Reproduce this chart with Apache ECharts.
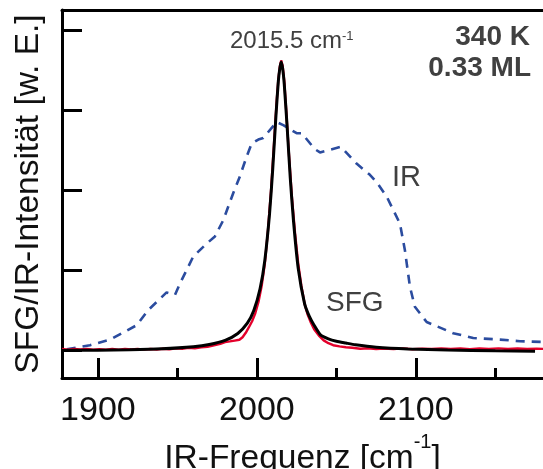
<!DOCTYPE html>
<html>
<head>
<meta charset="utf-8">
<script src="https://cdn.jsdelivr.net/npm/echarts@6/dist/echarts.min.js"></script>
<style>
html,body{margin:0;padding:0;background:#fff;}
#c{width:543px;height:469px;}
</style>
</head>
<body>
<div id="c"></div>
<script>
// IR spectrum (dashed blue)
var irX = [1880.4,1895.0,1907.6,1924.4,1931.7,1943.2,1948.5,1951.6,1960.0,1968.4,1973.6,1978.8,1985.1,1989.3,1993.6,1996.7,2000.9,2004.0,2012.4,2016.6,2025.0,2028.2,2036.5,2039.7,2052.9,2062.7,2071.1,2075.3,2081.6,2090.0,2093.1,2096.3,2099.4,2106.8,2123.5,2136.1,2152.9,2165.5,2180];
var irY = [0.01,0.06,0.13,0.31,0.50,0.72,0.69,0.83,1.17,1.33,1.42,1.62,1.96,2.17,2.42,2.58,2.63,2.65,2.85,2.81,2.71,2.71,2.51,2.47,2.54,2.33,2.19,2.10,1.92,1.58,1.25,0.79,0.54,0.35,0.21,0.15,0.13,0.11,0.10];
// SFG measured (red)
var sfgX = [1877.4,1881,1885,1889,1893,1897,1901,1905,1909,1913,1917,1921,1925,1929,1933,1937,1941,1945,1949,1953,1957,1961,1965,1969,1973,1977,1980,1983,1986,1989,1991,1993,1995,1997,1999,2001,2003,2005,2007,2009,2011,2012.5,2013.5,2014.5,2015.3,2016.2,2017.2,2018.5,2020,2022,2024,2026,2028,2030,2032,2034,2036,2039,2042,2045,2048,2052,2056,2060,2065,2070,2075,2080,2086,2092,2098,2104,2110,2116,2122,2128,2134,2140,2146,2152,2158,2164,2170,2176,2180];
var sfgY = [0.012,0.004,0.014,0.006,0.012,0.003,0.011,0.005,0.013,0.004,0.012,0.006,0.014,0.005,0.013,0.007,0.016,0.010,0.020,0.015,0.026,0.022,0.034,0.040,0.058,0.078,0.100,0.108,0.118,0.128,0.160,0.215,0.285,0.36,0.46,0.60,0.80,1.08,1.50,2.02,2.65,3.12,3.38,3.55,3.62,3.55,3.37,2.98,2.50,1.92,1.46,1.08,0.80,0.58,0.44,0.34,0.26,0.18,0.12,0.085,0.06,0.045,0.035,0.028,0.016,0.022,0.012,0.019,0.011,0.020,0.010,0.017,0.012,0.020,0.013,0.018,0.011,0.019,0.014,0.020,0.013,0.018,0.012,0.017,0.014];
// SFG fit (black)
var fitX = [1877.4,1890,1900,1920,1940,1960,1970,1980,1988,1994,1998,2002,2005,2008,2010,2012,2013.5,2014.5,2015.3,2016.2,2017.2,2019,2021,2023,2026,2030,2033,2036,2040,2045,2050,2056,2062,2075,2095,2120,2150,2175];
var fitY = [-0.005,-0.004,-0.002,0.004,0.016,0.042,0.069,0.121,0.207,0.336,0.49,0.765,1.12,1.71,2.27,2.93,3.36,3.53,3.60,3.52,3.33,2.80,2.15,1.62,1.02,0.58,0.42,0.31,0.19,0.14,0.11,0.087,0.065,0.035,0.013,0.0,-0.01,-0.015];
// ticks
var xMajorTicks = [1900, 2000, 2100];
var xMinorTicks = [1950, 2050, 2150];
var yTicks = [0, 1, 2, 3, 4];
var xMin = 1877.4, xMax = 2180, yMin = -0.35, yMax = 4.25;

function zip(a, b) { return a.map(function (v, i) { return [v, b[i]]; }); }

var FONT = 'Liberation Sans, Arial, sans-serif';
var chart = echarts.init(document.getElementById('c'), null, {renderer: 'canvas'});
chart.setOption({
  animation: false,
  backgroundColor: '#fff',
  grid: {left: 62, top: 10, right: 0, bottom: 91, containLabel: false, outerBoundsMode: 'none'},
  xAxis: [
    {
      type: 'value', position: 'bottom', min: xMin, max: xMax,
      axisLine: {onZero: false, lineStyle: {color: '#000', width: 3}},
      axisTick: {inside: true, length: 20, lineStyle: {color: '#000', width: 3}, customValues: xMajorTicks},
      axisLabel: {customValues: xMajorTicks, fontSize: 34, color: '#111', margin: 16, fontFamily: FONT,
        formatter: function (v) { return String(v); }},
      splitLine: {show: false},
      name: '{a|IR-Frequenz [cm}{s|-1}{a|]}',
      nameLocation: 'middle', nameGap: 52,
      nameTextStyle: {
        rich: {
          a: {fontSize: 33.5, color: '#111', fontFamily: FONT, lineHeight: 52},
          s: {fontSize: 20, color: '#111', fontFamily: FONT, lineHeight: 14, verticalAlign: 'top'}
        }
      }
    },
    {
      type: 'value', position: 'bottom', min: xMin, max: xMax,
      axisLine: {show: false, onZero: false},
      axisTick: {inside: true, length: 10, lineStyle: {color: '#000', width: 3}, customValues: xMinorTicks},
      axisLabel: {show: false},
      splitLine: {show: false}
    },
    {
      type: 'value', position: 'top', min: xMin, max: xMax,
      axisLine: {onZero: false, lineStyle: {color: '#000', width: 3}},
      axisTick: {show: false}, axisLabel: {show: false}, splitLine: {show: false}
    }
  ],
  yAxis: {
    type: 'value', min: yMin, max: yMax,
    axisLine: {show: true, onZero: false, lineStyle: {color: '#000', width: 3}},
    axisTick: {show: true, inside: true, length: 20, lineStyle: {color: '#000', width: 3}, customValues: yTicks},
    axisLabel: {show: false},
    splitLine: {show: false},
    name: 'SFG/IR-Intensität [w. E.]',
    nameLocation: 'middle', nameGap: 16,
    nameTextStyle: {fontSize: 33.5, color: '#111', fontFamily: FONT}
  },
  series: [
    {
      name: 'IR', type: 'line', xAxisIndex: 0, data: zip(irX, irY), showSymbol: false,
      lineStyle: {color: '#2b4c9f', width: 2.6, type: [9, 7]}, z: 2
    },
    {
      name: 'SFG', type: 'line', xAxisIndex: 0, data: zip(sfgX, sfgY), showSymbol: false,
      lineStyle: {color: '#e4002b', width: 2.4}, z: 3
    },
    {
      name: 'Fit', type: 'line', xAxisIndex: 0, data: zip(fitX, fitY), showSymbol: false, smooth: 0.2,
      lineStyle: {color: '#000', width: 3}, z: 4
    }
  ],
  graphic: [
    {type: 'text', x: 230, y: 41, style: {text: '2015.5 cm', font: '24px ' + FONT, fill: '#404040', verticalAlign: 'middle', align: 'left'}},
    {type: 'text', x: 342, y: 36, style: {text: '-1', font: '13px ' + FONT, fill: '#404040', verticalAlign: 'middle', align: 'left'}},
    {type: 'text', x: 530, y: 37, style: {text: '340 K', font: 'bold 28px ' + FONT, fill: '#404040', verticalAlign: 'middle', align: 'right'}},
    {type: 'text', x: 531, y: 68.5, style: {text: '0.33 ML', font: 'bold 28px ' + FONT, fill: '#404040', verticalAlign: 'middle', align: 'right'}},
    {type: 'text', x: 392, y: 177.5, style: {text: 'IR', font: '29px ' + FONT, fill: '#404040', verticalAlign: 'middle', align: 'left'}},
    {type: 'text', x: 326, y: 303.5, style: {text: 'SFG', font: '28px ' + FONT, fill: '#404040', verticalAlign: 'middle', align: 'left'}}
  ]
});
</script>
</body>
</html>
